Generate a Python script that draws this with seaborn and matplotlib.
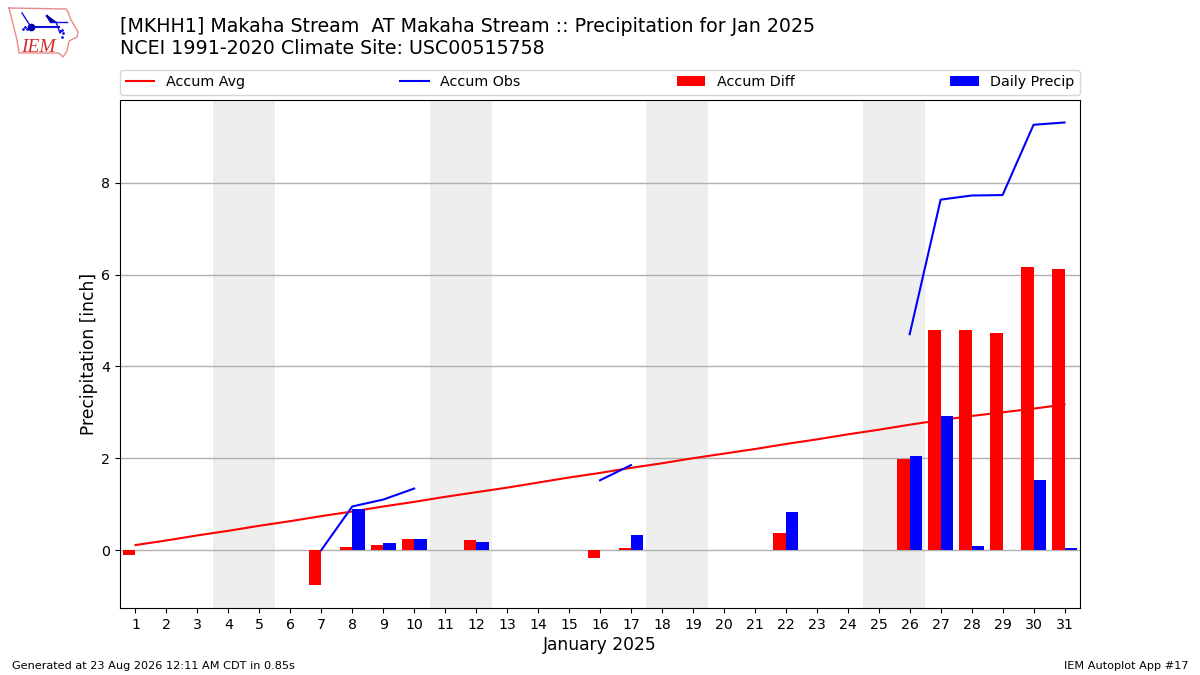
import matplotlib
matplotlib.use("Agg")
import matplotlib.pyplot as plt
import numpy as np
import pandas as pd
import seaborn as sns

nan = np.nan

days = list(range(1, 32))
accum_avg = [0.11, 0.21, 0.32, 0.42, 0.53, 0.63, 0.74, 0.84, 0.95, 1.05,
             1.16, 1.26, 1.36, 1.47, 1.58, 1.68, 1.79, 1.89, 2.00, 2.10,
             2.20, 2.31, 2.41, 2.52, 2.62, 2.73, 2.83, 2.92, 3.00, 3.08, 3.17]
accum_obs = [nan, nan, nan, nan, nan, nan, 0.0, 0.95, 1.10, 1.34,
             nan, nan, nan, nan, nan, 1.52, 1.85, nan, nan, nan,
             nan, nan, nan, nan, nan, 4.70, 7.63, 7.72, 7.73, 9.26, 9.31]
accum_diff = [-0.11, 0, 0, 0, 0, 0, -0.75, 0.07, 0.11, 0.24,
              0, 0.22, 0, 0, 0, -0.17, 0.05, 0, 0, 0,
              0, 0.37, 0, 0, 0, 1.98, 4.79, 4.79, 4.72, 6.16, 6.12]
daily_precip = [0, 0, 0, 0, 0, 0, 0, 0.90, 0.16, 0.24,
                0, 0.18, 0, 0, 0, 0, 0.33, 0, 0, 0,
                0, 0.82, 0, 0, 0, 2.05, 2.92, 0.09, 0, 1.52, 0.05]
weekends = [(3.5, 5.5), (10.5, 12.5), (17.5, 19.5), (24.5, 26.5)]
y_ticks = [0, 2, 4, 6, 8]

title = ("[MKHH1] Makaha Stream  AT Makaha Stream :: Precipitation for Jan 2025\n"
         "NCEI 1991-2020 Climate Site: USC00515758")

# long table for the dodged bars
bars = pd.DataFrame({
    "day": days * 2,
    "value": accum_diff + daily_precip,
    "series": ["Accum Diff"] * 31 + ["Daily Precip"] * 31,
})

# lineplot drops the gaps, so each run of observations gets its own unit
obs = pd.DataFrame({"day": days, "value": accum_obs})
obs["run"] = obs["value"].isna().cumsum()
obs = obs.dropna()

fig = plt.figure(figsize=(12, 6.75), dpi=100)
ax = fig.add_axes([0.1, 0.0993, 0.8, 0.7526])

for start, end in weekends:
    ax.axvspan(start, end, color="#eeeeee", lw=0, zorder=0)

sns.lineplot(x=days, y=accum_avg, color="red", lw=1.5, label="Accum Avg", ax=ax, zorder=2)
sns.lineplot(data=obs, x="day", y="value", units="run", estimator=None, color="blue",
             lw=1.5, label="Accum Obs", ax=ax, zorder=2)
sns.barplot(data=bars, x="day", y="value", hue="series", native_scale=True,
            palette={"Accum Diff": "red", "Daily Precip": "blue"},
            width=0.8, saturation=1, linewidth=0, errorbar=None, ax=ax, zorder=3)

ax.set_axisbelow(True)
ax.yaxis.grid(True, color="#b0b0b0", lw=1)
ax.xaxis.grid(False)
ax.set_xticks(days)
ax.set_xticklabels([str(d) for d in days])
ax.set_yticks(y_ticks)
ax.tick_params(labelsize=10.2)
ax.set_xlim(0.5, 31.5)
ax.set_ylim(-1.26, 9.8)
ax.set_xlabel("January 2025", fontsize=12.35, labelpad=3)
ax.set_ylabel("Precipitation [inch]", fontsize=12.35, labelpad=2)

# the units give one Accum Obs handle per run, keep only one
handles, labels = ax.get_legend_handles_labels()
unique = dict(zip(labels, handles))
ax.legend(list(unique.values()), list(unique.keys()), loc="lower left",
          bbox_to_anchor=(0, 1.0095, 1, 0.05), ncol=4, mode="expand",
          borderaxespad=0, fontsize=10.25)

fig.text(0.1, 0.9148, title, fontsize=13.65, ha="left", va="bottom")
fig.text(0.01, 0.0095, "Generated at 23 Aug 2026 12:11 AM CDT in 0.85s", fontsize=8.15)
fig.text(0.99, 0.0095, "IEM Autoplot App #17", fontsize=8.15, ha="right")

# small IEM logo, pixel coordinates of the picture
logo = fig.add_axes([0, 1 - 60 / 675, 85 / 1200, 60 / 675])
logo.set_xlim(0, 85)
logo.set_ylim(60, 0)
logo.axis("off")
logo.plot([9, 66, 68, 71, 74, 78, 77, 69, 67, 63, 60, 58, 19, 17, 14, 12, 9],
          [8, 9, 12, 20, 25, 32, 37, 41, 51, 57, 54, 53, 53, 40, 28, 20, 8],
          color="#e88a8a", lw=1)
logo.plot([32, 59], [27, 27], color="#1010dd", lw=1.5)
logo.plot([31], [27], "o", color="#0000aa", ms=4.5)
logo.plot([22, 31], [13, 27], color="#1010dd", lw=1)
logo.plot([47, 55, 50, 47], [16, 22, 21, 16], color="#0000aa", lw=1.5)
logo.plot([50, 67], [22, 22], color="#1010dd", lw=1)
logo.plot([56, 60], [22, 33], color="#1010dd", lw=1)
logo.plot([23, 25, 27], [29, 27, 29], ".", color="#1010dd", ms=2)
logo.plot([60, 63, 62, 62], [31, 33, 30, 37], ".", color="#1010dd", ms=2)
logo.text(21, 52, "IEM", color="#d62b2b", fontsize=14, family="Liberation Serif", style="italic")

plt.savefig("out.png", dpi=100)
plt.close()
